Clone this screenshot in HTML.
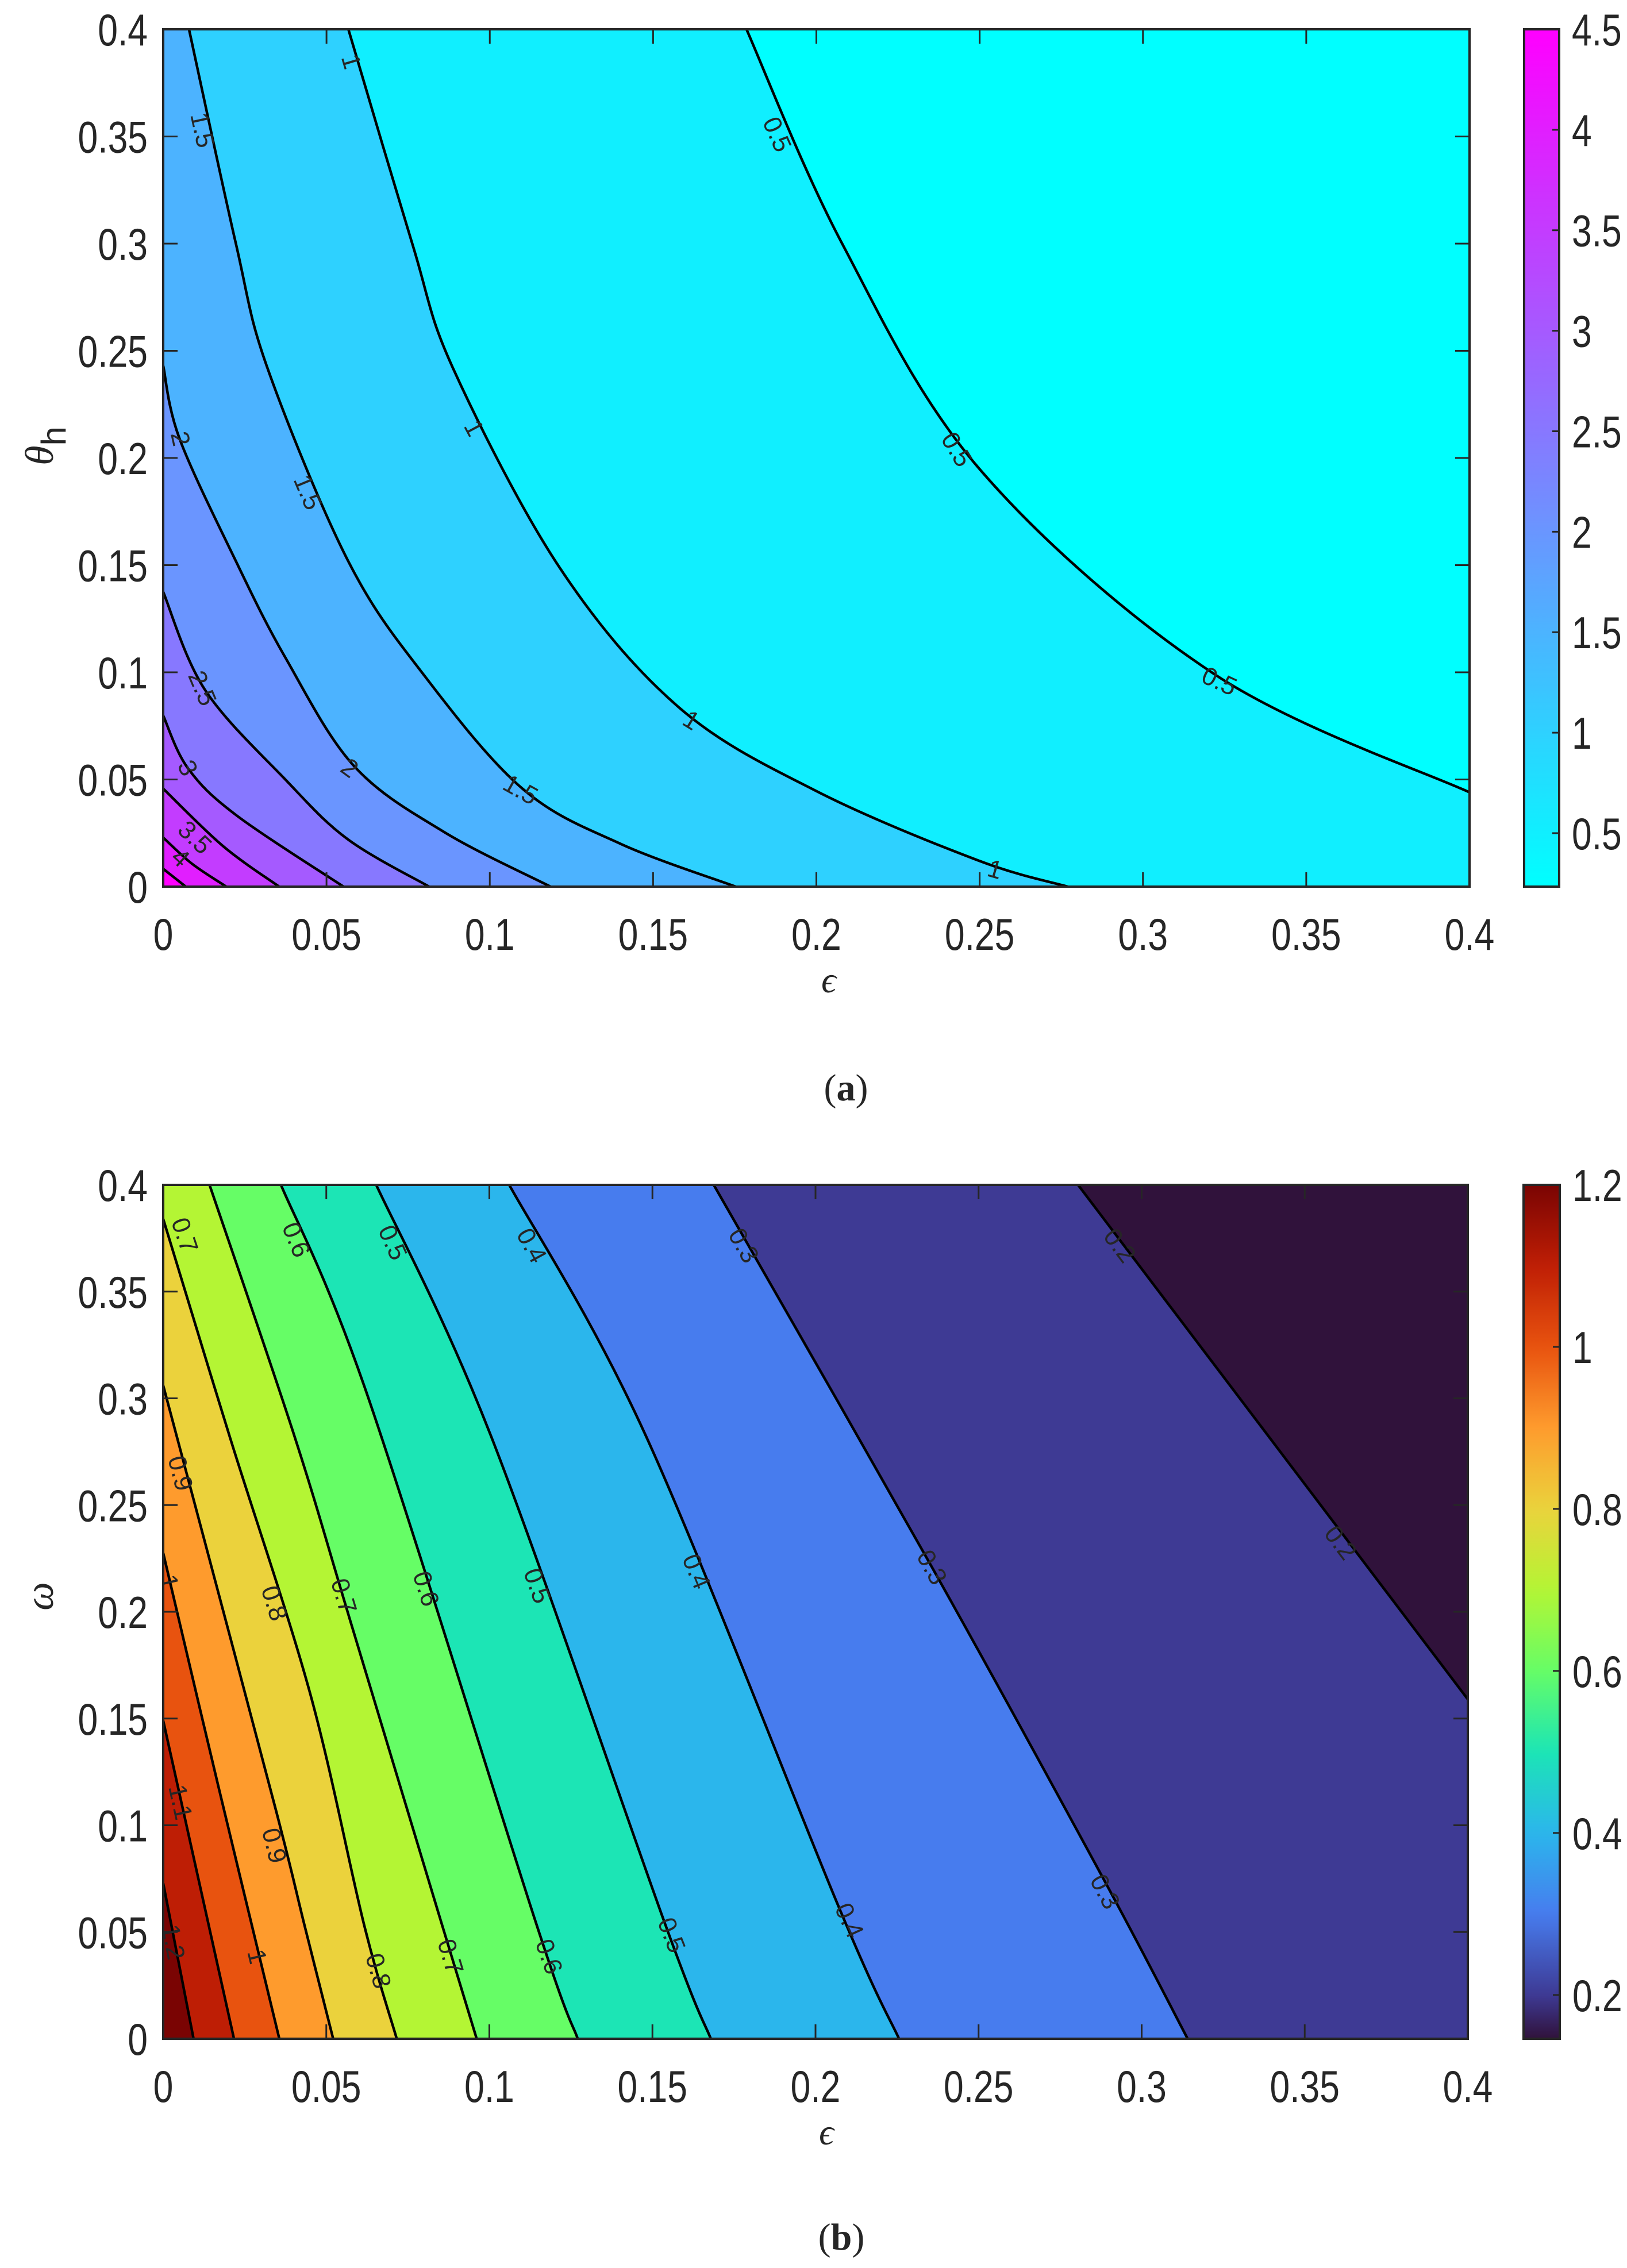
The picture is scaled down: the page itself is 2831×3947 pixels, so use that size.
<!DOCTYPE html>
<html><head><meta charset="utf-8"><title>Contour plots</title>
<style>
html,body{margin:0;padding:0;background:#fff;}
svg{display:block;}
text{font-family:"Liberation Sans",Arial,sans-serif;fill:#262626;}
.serif{font-family:"Liberation Serif","DejaVu Serif",serif;}
</style></head>
<body>
<svg id="fig" width="2831" height="3947" viewBox="0 0 2831 3947" xmlns="http://www.w3.org/2000/svg">
  <defs id="defs"></defs>
  <g id="panelA"></g>
  <g id="panelB"></g>
  <text class="serif" x="1442" y="1727" font-size="64" font-style="italic" text-anchor="middle">ϵ</text>
  <text class="serif" x="1438" y="3732" font-size="64" font-style="italic" text-anchor="middle">ϵ</text>
  <text transform="translate(92,776) rotate(-90)" font-size="70" text-anchor="middle"><tspan font-style="italic" class="serif">θ</tspan><tspan dy="22" font-size="60">h</tspan></text>
  <text class="serif" transform="translate(92,2778) rotate(-90)" font-size="70" font-style="italic" text-anchor="middle">ω</text>
  <text class="serif" x="1472" y="1915" font-size="66" text-anchor="middle">(<tspan font-weight="bold">a</tspan>)</text>
  <text class="serif" x="1464" y="3915" font-size="66" text-anchor="middle">(<tspan font-weight="bold">b</tspan>)</text>
</svg>
<script>
// ---------- Panel (a) data: contour levels and contour paths [epsilon, theta_h] ----------
const A_levels = [0.5, 1, 1.5, 2, 2.5, 3, 3.5, 4, 4.5];
const A_c05 = [[0.1786,0.4],[0.2078,0.3003],[0.2502,0.1944],[0.322,0.099],[0.4,0.044]];
const A_c10 = [[0.0567,0.4],[0.0762,0.3003],[0.0887,0.242],[0.1214,0.1488],[0.1577,0.0839],[0.1997,0.0448],[0.2494,0.0123],[0.277,0]];
const A_c15 = [[0.0079,0.4],[0.0222,0.3003],[0.0319,0.242],[0.0566,0.152],[0.08,0.0984],[0.11,0.0457],[0.14,0.02],[0.1753,0]];
const A_c20 = [[0,0.243],[0.005,0.209],[0.0222,0.152],[0.0375,0.1066],[0.0584,0.0563],[0.086,0.0255],[0.1186,0]];
const A_c25 = [[0,0.1375],[0.0127,0.092],[0.0375,0.0498],[0.0565,0.0221],[0.0814,0]];
const A_c30 = [[0,0.0798],[0.0075,0.0554],[0.0222,0.0335],[0.0552,0]];
const A_c35 = [[0,0.0457],[0.0184,0.0188],[0.0355,0]];
const A_c40 = [[0,0.0229],[0.0088,0.0107],[0.0193,0]];
const A_c45 = [[0,0.0083],[0.0069,0]];
const A_contours = [A_c05, A_c10, A_c15, A_c20, A_c25, A_c30, A_c35, A_c40, A_c45];
const A_labelText = ["1","1.5","0.5","1","0.5","2","1.5","2.5","1","0.5","3","2","1.5","3.5","4","1"];
const A_labelLevel = [1,1.5,0.5,1,0.5,2,1.5,2.5,1,0.5,3,2,1.5,3.5,4,1];
const A_labelAt = [[0.0576,0.385],[0.012,0.353],[0.188,0.351],[0.0952,0.214],[0.243,0.204],[0.0053,0.209],[0.0443,0.184],[0.012,0.0926],[0.1617,0.0777],[0.3234,0.0959],[0.0075,0.0554],[0.0571,0.0554],[0.1094,0.0453],[0.0097,0.023],[0.0053,0.0135],[0.2547,0.0081]];
const A_range = [0.234, 4.5];
const A_cbTicks = [0.5,1,1.5,2,2.5,3,3.5,4,4.5];
const A_cbTickLabels = ["0.5","1","1.5","2","2.5","3","3.5","4","4.5"];

// ---------- Panel (b) data: contour levels and contour paths [epsilon, omega] ----------
const B_levels = [0.2,0.3,0.4,0.5,0.6,0.7,0.8,0.9,1.0,1.1,1.2];
const B_c02 = [[0.2805,0.4],[0.4,0.159]];
const B_c03 = [[0.1688,0.4],[0.2357,0.2209],[0.288,0.0757],[0.3141,0]];
const B_c04 = [[0.1061,0.4],[0.148,0.2824],[0.207,0.0622],[0.2256,0]];
const B_c05 = [[0.0653,0.4],[0.1005,0.2824],[0.154,0.0533],[0.1679,0]];
const B_c06 = [[0.0361,0.4],[0.0623,0.3028],[0.1145,0.0533],[0.1271,0]];
const B_c07 = [[0.0142,0.4],[0.0403,0.282],[0.0579,0.193],[0.0855,0.0533],[0.0961,0]];
const B_c08 = [[0,0.384],[0.0204,0.282],[0.045,0.162],[0.0616,0.0533],[0.0716,0]];
const B_c09 = [[0,0.306],[0.0086,0.2567],[0.0345,0.1074],[0.0433,0.0533],[0.0521,0]];
const B_c10 = [[0,0.2275],[0.0169,0.1183],[0.0356,0]];
const B_c11 = [[0,0.149],[0.0217,0]];
const B_c12 = [[0,0.0728],[0.0093,0]];
const B_contours = [B_c02,B_c03,B_c04,B_c05,B_c06,B_c07,B_c08,B_c09,B_c10,B_c11,B_c12];
const B_labelText = ["0.7","0.6","0.5","0.4","0.3","0.2","0.9","0.8","0.7","0.6","0.5","0.4","0.3","0.2","1","1.1","0.9","1.2","1","0.8","0.7","0.6","0.5","0.4","0.3"];
const B_labelLevel = [0.7,0.6,0.5,0.4,0.3,0.2,0.9,0.8,0.7,0.6,0.5,0.4,0.3,0.2,1,1.1,0.9,1.2,1,0.8,0.7,0.6,0.5,0.4,0.3];
const B_labelAt = [[0.0066,0.3764],[0.0408,0.3743],[0.0704,0.373],[0.113,0.3716],[0.178,0.3716],[0.2933,0.3716],[0.0053,0.2649],[0.0341,0.204],[0.0554,0.2074],[0.0806,0.2108],[0.1147,0.2122],[0.1635,0.2189],[0.2357,0.2209],[0.361,0.2324],[0.0018,0.214],[0.0053,0.1108],[0.0341,0.0905],[0.0031,0.0453],[0.0288,0.0385],[0.066,0.0318],[0.0881,0.0385],[0.1183,0.0385],[0.1559,0.0486],[0.2104,0.0554],[0.2888,0.0689]];
const B_range = [0.146, 1.2];
const B_cbTicks = [0.2,0.4,0.6,0.8,1,1.2];
const B_cbTickLabels = ["0.2","0.4","0.6","0.8","1","1.2"];

// shared axis ticks
const xTicks = [0,0.05,0.1,0.15,0.2,0.25,0.3,0.35,0.4];
const xTickLabels = ["0","0.05","0.1","0.15","0.2","0.25","0.3","0.35","0.4"];
const yTicks = [0,0.05,0.1,0.15,0.2,0.25,0.3,0.35,0.4];
const yTickLabels = ["0","0.05","0.1","0.15","0.2","0.25","0.3","0.35","0.4"];

const NS = "http://www.w3.org/2000/svg";
function el(tag, attrs, parent){
  const e = document.createElementNS(NS, tag);
  for (const k in attrs) e.setAttribute(k, attrs[k]);
  if (parent) parent.appendChild(e);
  return e;
}
function cool(t){ t=Math.max(0,Math.min(1,t)); return [255*t, 255*(1-t), 255]; }
const TURBO_T = [0,0.051,0.146,0.241,0.336,0.431,0.526,0.621,0.716,0.811,0.906,1];
const TURBO_C = [[48,18,59],[62,58,148],[71,124,238],[43,182,236],[28,229,181],[102,253,102],[180,245,52],[235,210,60],[254,155,45],[232,82,15],[190,30,5],[122,4,3]];
function turbo(t){
  t=Math.max(0,Math.min(1,t));
  for (let i=0;i<TURBO_T.length-1;i++){
    if (t<=TURBO_T[i+1]+1e-9){
      const f=(t-TURBO_T[i])/(TURBO_T[i+1]-TURBO_T[i]);
      return TURBO_C[i].map((c,k)=>c+(TURBO_C[i+1][k]-c)*f);
    }
  }
  return TURBO_C[TURBO_C.length-1];
}
function rgb(c){ return "rgb("+c.map(v=>Math.round(Math.max(0,Math.min(255,v)))).join(",")+")"; }

function smoothPath(pts){
  let d = "M"+pts[0][0].toFixed(1)+","+pts[0][1].toFixed(1);
  for (let i=0;i<pts.length-1;i++){
    const p0=pts[Math.max(0,i-1)], p1=pts[i], p2=pts[i+1], p3=pts[Math.min(pts.length-1,i+2)];
    const c1=[p1[0]+(p2[0]-p0[0])/6, p1[1]+(p2[1]-p0[1])/6];
    const c2=[p2[0]-(p3[0]-p1[0])/6, p2[1]-(p3[1]-p1[1])/6];
    d += " C"+c1[0].toFixed(1)+","+c1[1].toFixed(1)+" "+c2[0].toFixed(1)+","+c2[1].toFixed(1)+" "+p2[0].toFixed(1)+","+p2[1].toFixed(1);
  }
  return d;
}
function narrowText(parent, x, y, str, size, anchor, sx){
  const t = el("text", {transform:"translate("+x+","+y+") scale("+sx+",1)", "font-size":size, "text-anchor":anchor}, parent);
  t.textContent = str;
  return t;
}

function drawPanel(g, cfg){
  const {x0,x1,y0,y1,cb0,cb1,levels,contours,range,cmap,id} = cfg;
  const sx = e => x0 + e/0.4*(x1-x0);
  const sy = v => y1 - v/0.4*(y1-y0);
  const col = v => rgb(cmap((v-range[0])/(range[1]-range[0])));
  const defs = document.getElementById("defs");
  const cp = el("clipPath", {id:"clip"+id}, defs);
  el("rect", {x:x0,y:y0,width:x1-x0,height:y1-y0}, cp);
  const plot = el("g", {"clip-path":"url(#clip"+id+")"}, g);
  
  
  const bg = el("rect", {x:x0,y:y0,width:x1-x0,height:y1-y0,fill:col(range[0])}, plot);
  
  
  levels.forEach((lv,i)=>{
    const pts = contours[i].map(p=>[sx(p[0]),sy(p[1])]);
    const first = contours[i][0], last = contours[i][contours[i].length-1];
    let d = smoothPath(pts);
    d += " L"+sx(last[0])+","+sy(0)+" L"+sx(0)+","+sy(0)+" L"+sx(0)+","+sy(first[1])+" Z";
    const f = el("path", {d:d, fill:col(lv), stroke:"none"}, plot);
    
    
  });
  levels.forEach((lv,i)=>{
    const pts = contours[i].map(p=>[sx(p[0]),sy(p[1])]);
    const l = el("path", {d:smoothPath(pts), fill:"none", stroke:"#000", "stroke-width":4.5}, plot);
    
    
  });
  cfg.labelAt.forEach((p,k)=>{
    const lv = cfg.labelLevel[k];
    const idx = levels.findIndex(v=>Math.abs(v-lv)<1e-9);
    const pts = contours[idx].map(q=>[sx(q[0]),sy(q[1])]);
    const X=sx(p[0]), Y=sy(p[1]);
    let best=0,bd=1e18;
    for(let i=0;i<pts.length-1;i++){
      const mx=(pts[i][0]+pts[i+1][0])/2,my=(pts[i][1]+pts[i+1][1])/2;
      const dd=(mx-X)*(mx-X)+(my-Y)*(my-Y);
      if(dd<bd){bd=dd;best=i;}
    }
    let ang = Math.atan2(pts[best+1][1]-pts[best][1], pts[best+1][0]-pts[best][0])*180/Math.PI;
    if (ang>90) ang-=180; if (ang<-90) ang+=180;
    const lg = el("g", {transform:"translate("+X.toFixed(1)+","+Y.toFixed(1)+") rotate("+ang.toFixed(1)+")"}, plot);
    
    
    const t = el("text", {x:0,y:15,"font-size":44,"text-anchor":"middle",fill:"#000"}, lg);
    t.textContent = cfg.labelText[k];
  });
  const frame = el("rect", {x:x0,y:y0,width:x1-x0,height:y1-y0,fill:"none",stroke:"#262626","stroke-width":4}, g);
  
  
  xTicks.forEach((v,i)=>{
    const X = sx(v);
    const tk = el("path", {d:"M"+X+","+y1+"v-25M"+X+","+y0+"v25", stroke:"#262626","stroke-width":3}, g);
    
    
    const tl = narrowText(g, X, y1+110, xTickLabels[i], 78, "middle", 0.8);
    
    
  });
  yTicks.forEach((v,i)=>{
    const Y = sy(v);
    const tk = el("path", {d:"M"+x0+","+Y+"h25M"+x1+","+Y+"h-25", stroke:"#262626","stroke-width":3}, g);
    
    
    const tl = narrowText(g, x0-27, Y+28, yTickLabels[i], 78, "end", 0.8);
    
    
  });
  const gr = el("linearGradient", {id:"grad"+id, x1:0, y1:1, x2:0, y2:0}, defs);
  for (let s=0;s<=60;s++){
    el("stop", {offset:(s/60).toFixed(3), "stop-color":rgb(cmap(s/60))}, gr);
  }
  const cb = el("rect", {x:cb0,y:y0,width:cb1-cb0,height:y1-y0,fill:"url(#grad"+id+")",stroke:"#262626","stroke-width":4}, g);
  
  
  const cyv = v => y1 - (v-range[0])/(range[1]-range[0])*(y1-y0);
  cfg.cbTicks.forEach((v,i)=>{
    const Y = cyv(v);
    const tk = el("path", {d:"M"+cb1+","+Y+"h-12", stroke:"#262626","stroke-width":3}, g);
    
    
    const tl = narrowText(g, cb1+22, Y+28, cfg.cbTickLabels[i], 78, "start", 0.8);
    
    
  });
}

drawPanel(document.getElementById("panelA"), {
  id:"A", x0:284, x1:2557, y0:51, y1:1543, cb0:2652, cb1:2713,
  levels:A_levels, contours:A_contours, range:A_range, cmap:cool,
  labelAt:A_labelAt, labelText:A_labelText, labelLevel:A_labelLevel,
  cbTicks:A_cbTicks, cbTickLabels:A_cbTickLabels
});
drawPanel(document.getElementById("panelB"), {
  id:"B", x0:284, x1:2554, y0:2062, y1:3548, cb0:2651, cb1:2714,
  levels:B_levels, contours:B_contours, range:B_range, cmap:turbo,
  labelAt:B_labelAt, labelText:B_labelText, labelLevel:B_labelLevel,
  cbTicks:B_cbTicks, cbTickLabels:B_cbTickLabels
});
</script>
</body></html>
